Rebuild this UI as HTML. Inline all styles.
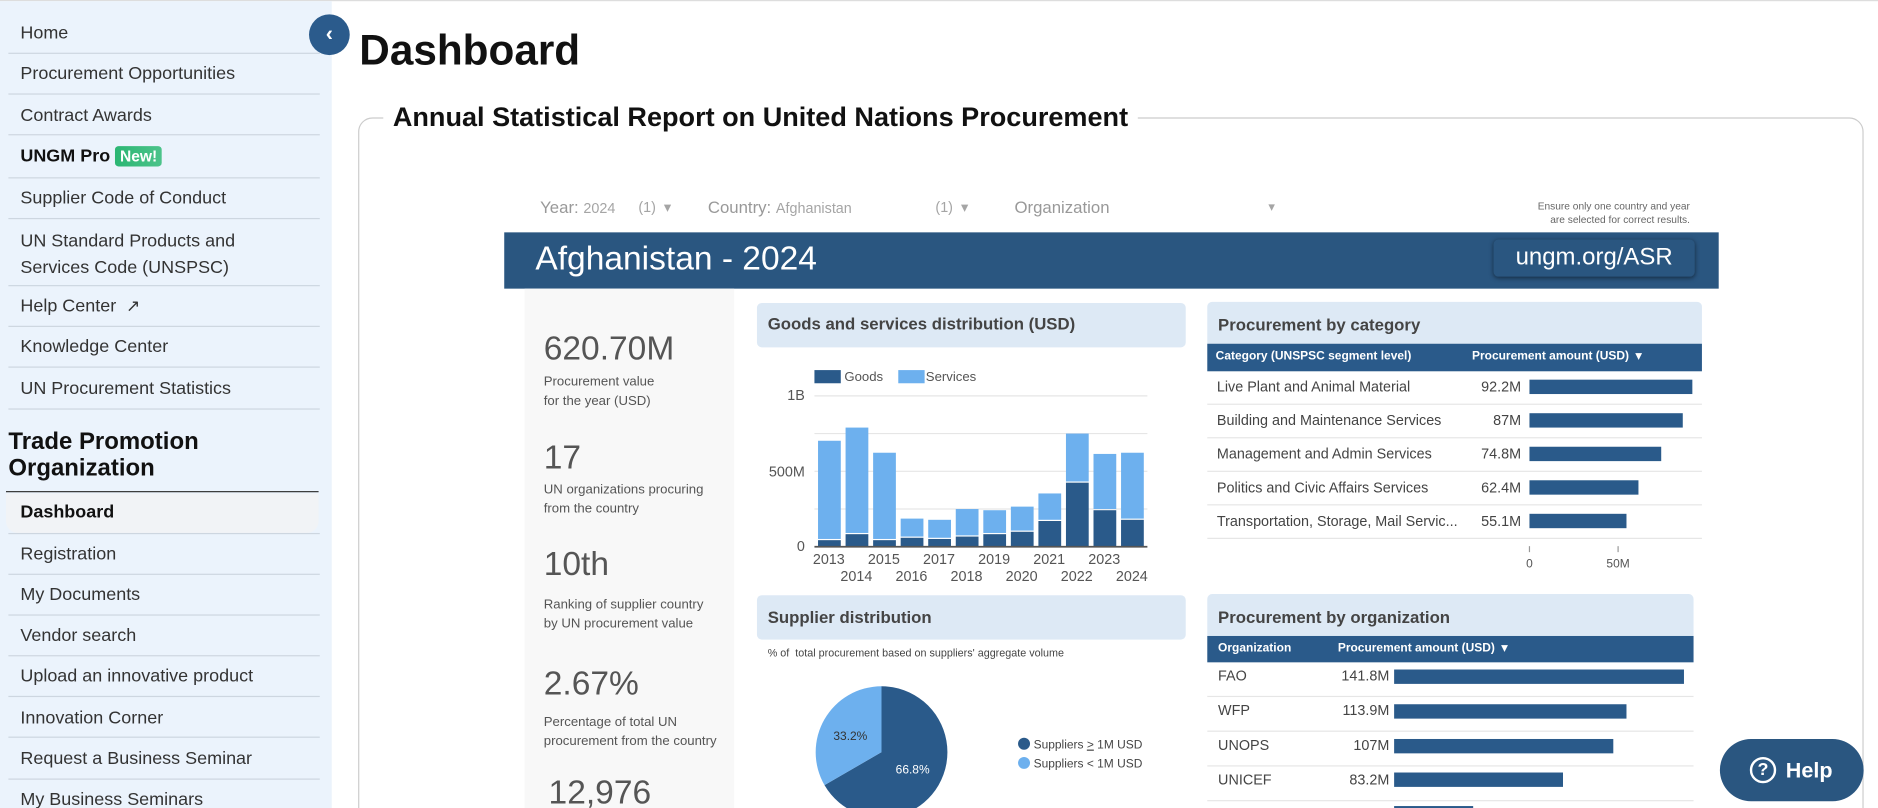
<!DOCTYPE html>
<html><head><meta charset="utf-8"><style>
*{margin:0;padding:0;box-sizing:border-box}
html,body{width:1878px;height:808px;overflow:hidden;background:#fff;font-family:"Liberation Sans",sans-serif}
#s{position:absolute;left:0;top:0;width:1568px;height:675px;transform:scale(1.1977);transform-origin:0 0;overflow:hidden}
.a{position:absolute;white-space:nowrap}
.side{position:absolute;left:0;top:1px;width:277px;height:674px;background:#ebf3fc}
.mi{position:absolute;left:17px;font-size:15px;color:#333}
.sep{position:absolute;left:7px;width:260px;height:1px;background:#cdd6e0}
.g{color:#a5a5a5}
.hd{position:absolute;background:#dde9f5;border-radius:4px;font-weight:bold;font-size:14px;color:#444;padding-left:9px}
.th{position:absolute;background:#2a5a8a;color:#fff;font-weight:bold;font-size:10px}
.row{position:absolute;font-size:12px;color:#444;border-bottom:1px solid #e6e6e6}
.bar{position:absolute;background:#2a5a8a;height:12px}
.kb{position:absolute;left:454px;font-size:28px;color:#555}
.ks{position:absolute;left:454px;font-size:11px;color:#555;line-height:16px}
</style></head><body><div id="s">
<div class="a" style="left:0;top:0;width:1568px;height:1px;background:#ddd"></div>
<div class="side"></div>
<div class="mi" style="top:19px">Home</div><div class="sep" style="top:44px"></div>
<div class="mi" style="top:53px">Procurement Opportunities</div><div class="sep" style="top:78px"></div>
<div class="mi" style="top:88px">Contract Awards</div><div class="sep" style="top:112px"></div>
<div class="mi" style="top:122px;font-weight:bold;color:#111">UNGM Pro <span style="background:linear-gradient(90deg,#2bb673,#4cc38a);color:#fff;font-size:13px;padding:1px 4px;border-radius:3px">New!</span></div><div class="sep" style="top:148px"></div>
<div class="mi" style="top:157px">Supplier Code of Conduct</div><div class="sep" style="top:182px"></div>
<div class="mi" style="top:191px;line-height:22px">UN Standard Products and<br>Services Code (UNSPSC)</div><div class="sep" style="top:238px"></div>
<div class="mi" style="top:247px">Help Center <span style="font-size:14px;margin-left:4px">&#8599;</span></div><div class="sep" style="top:272px"></div>
<div class="mi" style="top:281px">Knowledge Center</div><div class="sep" style="top:306px"></div>
<div class="mi" style="top:316px">UN Procurement Statistics</div><div class="sep" style="top:341px"></div>
<div class="a" style="left:7px;top:358px;font-size:20px;font-weight:bold;color:#111;line-height:22px">Trade Promotion<br>Organization</div>
<div class="a" style="left:5px;top:410px;width:261px;height:1px;background:#333"></div>
<div class="a" style="left:5px;top:412px;width:261px;height:33px;background:#f1f3f6;border-radius:0 0 10px 10px"></div>
<div class="mi" style="top:419px;font-weight:bold;color:#111">Dashboard</div><div class="sep" style="top:445px"></div>
<div class="mi" style="top:454px">Registration</div><div class="sep" style="top:479px"></div>
<div class="mi" style="top:488px">My Documents</div><div class="sep" style="top:513px"></div>
<div class="mi" style="top:522px">Vendor search</div><div class="sep" style="top:547px"></div>
<div class="mi" style="top:556px">Upload an innovative product</div><div class="sep" style="top:581px"></div>
<div class="mi" style="top:591px">Innovation Corner</div><div class="sep" style="top:615px"></div>
<div class="mi" style="top:625px">Request a Business Seminar</div><div class="sep" style="top:650px"></div>
<div class="mi" style="top:659px">My Business Seminars</div>
<div class="a" style="left:258px;top:12px;width:34px;height:34px;border-radius:50%;background:#2b5b8c;color:#fff;font-size:18px;font-weight:bold;text-align:center;line-height:33px">&lsaquo;</div>
<div class="a" style="left:300px;top:23px;font-size:35.3px;font-weight:bold;color:#111">Dashboard</div>
<div class="a" style="left:299px;top:98px;width:1257px;height:600px;border:1px solid #ccc;border-radius:12px"></div>
<div class="a" style="left:320px;top:85px;padding:0 8px;background:#fff;font-size:22.6px;font-weight:bold;color:#111">Annual Statistical Report on United Nations Procurement</div>
<div class="a g" style="left:451px;top:165px;font-size:14px"><span style="color:#999">Year:</span> <span style="font-size:12px">2024</span></div>
<div class="a g" style="left:533px;top:166px;font-size:12px">(1) &nbsp;&#9662;</div>
<div class="a g" style="left:591px;top:165px;font-size:14px"><span style="color:#999">Country:</span> <span style="font-size:12px">Afghanistan</span></div>
<div class="a g" style="left:781px;top:166px;font-size:12px">(1) &nbsp;&#9662;</div>
<div class="a g" style="left:847px;top:165px;font-size:14px;color:#999">Organization</div>
<div class="a g" style="left:1059px;top:166px;font-size:11px">&#9662;</div>
<div class="a" style="left:1200px;top:167px;width:211px;text-align:right;font-size:8.5px;color:#666;line-height:11px">Ensure only one country and year<br>are selected for correct results.</div>
<div class="a" style="left:421px;top:194px;width:1014px;height:47px;background:#2a5680"></div>
<div class="a" style="left:447px;top:200px;font-size:28px;color:#fff">Afghanistan - 2024</div>
<div class="a" style="left:1247px;top:200px;width:168px;height:31px;background:#2a5680;border-radius:4px;box-shadow:0 1px 4px rgba(0,0,0,.5);color:#fff;font-size:20px;text-align:center;line-height:31px">ungm.org/ASR</div>
<div class="a" style="left:438px;top:241px;width:175px;height:440px;background:#f8f8f8"></div>
<div class="kb" style="top:275px">620.70M</div><div class="ks" style="top:311px">Procurement value<br>for the year (USD)</div>
<div class="kb" style="top:366px">17</div><div class="ks" style="top:401px">UN organizations procuring<br>from the country</div>
<div class="kb" style="top:455px">10th</div><div class="ks" style="top:497px">Ranking of supplier country<br>by UN procurement value</div>
<div class="kb" style="top:555px">2.67%</div><div class="ks" style="top:595px">Percentage of total UN<br>procurement from the country</div>
<div class="kb" style="top:646px;left:458px">12,976</div>
<div class="hd" style="left:632px;top:253px;width:358px;height:37px;line-height:35px">Goods and services distribution (USD)</div>
<div class="hd" style="left:632px;top:497px;width:358px;height:37px;line-height:37px">Supplier distribution</div>
<div class="a" style="left:641px;top:540px;font-size:9px;color:#444">% of &nbsp;total procurement based on suppliers' aggregate volume</div>
<svg class="a" style="left:0;top:0" width="1568" height="675" font-family="Liberation Sans, sans-serif">
<g fill="#555" font-size="12">
<rect x="680" y="309" width="22" height="11" fill="#2a5a8a"/><text x="705" y="318" font-size="11">Goods</text>
<rect x="750" y="309" width="22" height="11" fill="#6db0ee"/><text x="773" y="318" font-size="11">Services</text>
<text x="672" y="334" text-anchor="end">1B</text><text x="672" y="398" text-anchor="end">500M</text><text x="672" y="460" text-anchor="end">0</text>
</g>
<g stroke="#e6e6e6"><line x1="680" x2="958" y1="330.5" y2="330.5"/><line x1="680" x2="958" y1="362" y2="362"/><line x1="680" x2="958" y1="393.5" y2="393.5"/><line x1="680" x2="958" y1="425" y2="425"/></g>
<g fill="#6db0ee">
<rect x="683" y="368" width="19" height="82"/><rect x="706" y="357" width="19" height="88"/><rect x="729" y="378" width="19" height="72"/><rect x="752" y="433" width="19" height="15"/><rect x="775" y="434" width="19" height="15"/><rect x="798" y="425" width="19" height="22"/><rect x="821" y="426" width="19" height="19"/><rect x="844" y="423" width="19" height="20"/><rect x="867" y="412" width="19" height="22"/><rect x="890" y="362" width="19" height="40"/><rect x="913" y="379" width="19" height="46"/><rect x="936" y="378" width="19" height="55"/>
</g>
<g fill="#2a5a8a">
<rect x="683" y="451" width="19" height="5"/><rect x="706" y="446" width="19" height="10"/><rect x="729" y="451" width="19" height="5"/><rect x="752" y="449" width="19" height="7"/><rect x="775" y="450" width="19" height="6"/><rect x="798" y="448" width="19" height="8"/><rect x="821" y="446" width="19" height="10"/><rect x="844" y="444" width="19" height="12"/><rect x="867" y="435" width="19" height="21"/><rect x="890" y="403" width="19" height="53"/><rect x="913" y="426" width="19" height="30"/><rect x="936" y="434" width="19" height="22"/>
</g>
<line x1="680" x2="958" y1="456.5" y2="456.5" stroke="#555" stroke-width="1.5"/>
<g fill="#555" font-size="12" text-anchor="middle">
<text x="692" y="471">2013</text><text x="738" y="471">2015</text><text x="784" y="471">2017</text><text x="830" y="471">2019</text><text x="876" y="471">2021</text><text x="922" y="471">2023</text>
<text x="715" y="485">2014</text><text x="761" y="485">2016</text><text x="807" y="485">2018</text><text x="853" y="485">2020</text><text x="899" y="485">2022</text><text x="945" y="485">2024</text>
</g>
<path d="M736,628 L736,573 A55,55 0 1,1 688.4,655.5 Z" fill="#2a5a8a"/>
<path d="M736,628 L688.4,655.5 A55,55 0 0,1 736,573 Z" fill="#6db0ee"/>
<text x="710" y="618" font-size="10" fill="#333" text-anchor="middle">33.2%</text>
<text x="762" y="646" font-size="10" fill="#fff" text-anchor="middle">66.8%</text>
<circle cx="855" cy="621" r="5" fill="#2a5a8a"/><circle cx="855" cy="637" r="5" fill="#6db0ee"/>
<text x="863" y="625" font-size="10" fill="#444">Suppliers <tspan text-decoration="underline">&gt;</tspan> 1M USD</text>
<text x="863" y="641" font-size="10" fill="#444">Suppliers &lt; 1M USD</text>
<g stroke="#999"><line x1="1277" x2="1277" y1="456" y2="461"/><line x1="1351" x2="1351" y1="456" y2="461"/></g>
<text x="1277" y="474" font-size="10" fill="#555" text-anchor="middle">0</text>
<text x="1351" y="474" font-size="10" fill="#555" text-anchor="middle">50M</text>
</svg>
<div class="hd" style="left:1008px;top:252px;width:413px;height:35px;line-height:38px;border-radius:4px 4px 0 0">Procurement by category</div>
<div class="th" style="left:1008px;top:287px;width:413px;height:23px;line-height:22px"><span class="a" style="left:7px">Category (UNSPSC segment level)</span><span class="a" style="left:221px">Procurement amount (USD) &nbsp;&#9662;</span></div>
<div class="row" style="left:1008px;top:310px;width:413px;height:28px;line-height:27px"><span class="a" style="left:8px">Live Plant and Animal Material</span><span class="a" style="right:151px">92.2M</span></div>
<div class="row" style="left:1008px;top:338px;width:413px;height:28px;line-height:27px"><span class="a" style="left:8px">Building and Maintenance Services</span><span class="a" style="right:151px">87M</span></div>
<div class="row" style="left:1008px;top:366px;width:413px;height:28px;line-height:27px"><span class="a" style="left:8px">Management and Admin Services</span><span class="a" style="right:151px">74.8M</span></div>
<div class="row" style="left:1008px;top:394px;width:413px;height:28px;line-height:27px"><span class="a" style="left:8px">Politics and Civic Affairs Services</span><span class="a" style="right:151px">62.4M</span></div>
<div class="row" style="left:1008px;top:422px;width:413px;height:28px;line-height:27px"><span class="a" style="left:8px">Transportation, Storage, Mail Servic...</span><span class="a" style="right:151px">55.1M</span></div>
<div class="bar" style="left:1277px;top:317px;width:136px"></div>
<div class="bar" style="left:1277px;top:345px;width:128px"></div>
<div class="bar" style="left:1277px;top:373px;width:110px"></div>
<div class="bar" style="left:1277px;top:401px;width:91px"></div>
<div class="bar" style="left:1277px;top:429px;width:81px"></div>
<div class="hd" style="left:1008px;top:496px;width:406px;height:35px;line-height:38px;border-radius:4px 4px 0 0">Procurement by organization</div>
<div class="th" style="left:1008px;top:531px;width:406px;height:22px;line-height:21px"><span class="a" style="left:9px">Organization</span><span class="a" style="left:109px">Procurement amount (USD) &nbsp;&#9662;</span></div>
<div class="row" style="left:1008px;top:553px;width:406px;height:29px;line-height:23px"><span class="a" style="left:9px">FAO</span><span class="a" style="right:254px">141.8M</span></div>
<div class="row" style="left:1008px;top:582px;width:406px;height:29px;line-height:23px"><span class="a" style="left:9px">WFP</span><span class="a" style="right:254px">113.9M</span></div>
<div class="row" style="left:1008px;top:611px;width:406px;height:29px;line-height:23px"><span class="a" style="left:9px">UNOPS</span><span class="a" style="right:254px">107M</span></div>
<div class="row" style="left:1008px;top:640px;width:406px;height:29px;line-height:23px"><span class="a" style="left:9px">UNICEF</span><span class="a" style="right:254px">83.2M</span></div>
<div class="bar" style="left:1164px;top:559px;width:242px"></div>
<div class="bar" style="left:1164px;top:588px;width:194px"></div>
<div class="bar" style="left:1164px;top:617px;width:183px"></div>
<div class="bar" style="left:1164px;top:645px;width:141px"></div>
<div class="bar" style="left:1164px;top:673px;width:66px;height:2px"></div>
<div class="a" style="left:1436px;top:617px;width:120px;height:52px;border-radius:26px;background:#2a5680;color:#fff;font-size:18px;font-weight:bold;line-height:52px;padding-left:25px"><span style="display:inline-block;width:22px;height:22px;border:2px solid #fff;border-radius:50%;text-align:center;line-height:18px;font-size:15px;vertical-align:middle;margin-right:8px;margin-top:-3px">?</span>Help</div>
</div></body></html>
